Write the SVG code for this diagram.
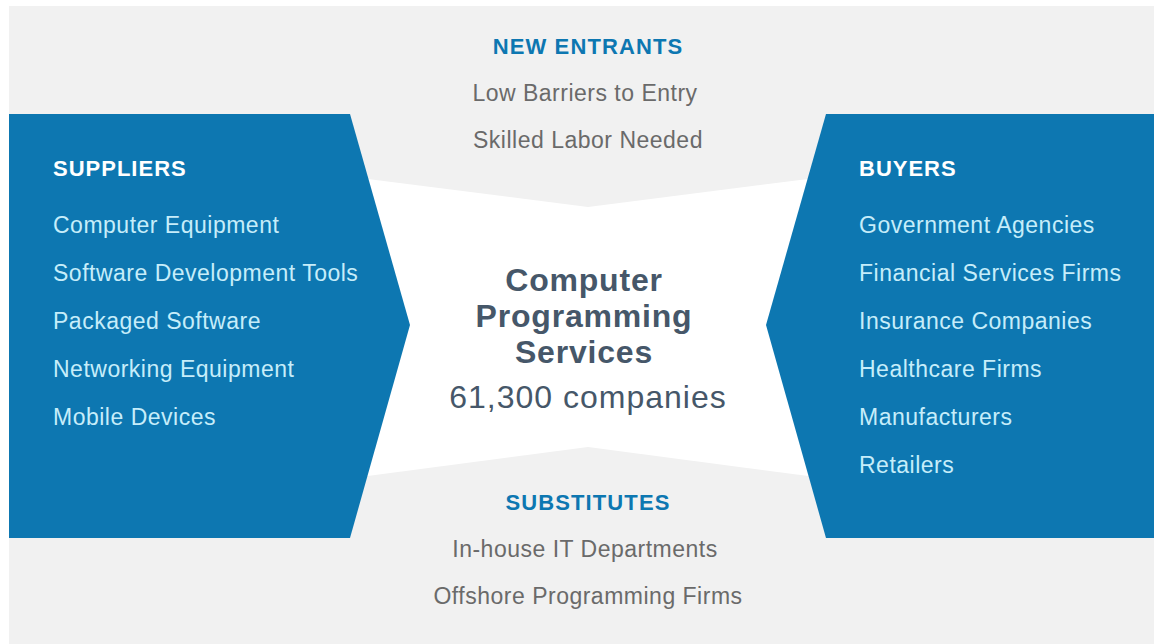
<svg xmlns="http://www.w3.org/2000/svg" width="1154" height="644" viewBox="0 0 1154 644">
  <style>
    text { font-family: "Liberation Sans", Arial, Helvetica, sans-serif; }
    .panel { fill: #0d77b1; }
    .head-w { font-size: 22px; font-weight: bold; fill: #ffffff; letter-spacing: 1px; }
    .item-w { font-size: 23px; fill: #c6edfa; letter-spacing: 0.5px; }
    .head-b { font-size: 22px; font-weight: bold; fill: #0d77b1; text-anchor: middle; letter-spacing: 1.1px; }
    .item-g { font-size: 23px; fill: #6a6a6a; text-anchor: middle; letter-spacing: 0.5px; }
    .core-t { font-size: 32px; font-weight: bold; fill: #465769; text-anchor: middle; letter-spacing: 0.8px; }
    .core-n { font-size: 32px; fill: #465769; text-anchor: middle; letter-spacing: 1px; }
  </style>

  <!-- backdrop -->
  <rect x="0" y="0" width="1154" height="644" fill="#ffffff"/>
  <rect x="9" y="6" width="1145" height="638" fill="#f1f1f1"/>

  <!-- central industry area -->
  <g id="industry">
    <polygon points="360,178 588,207 816,178 816,477 588,447 360,477" fill="#ffffff"/>
    <text class="core-t" x="584" y="291">Computer</text>
    <text class="core-t" x="584" y="327">Programming</text>
    <text class="core-t" x="584" y="363">Services</text>
    <text class="core-n" x="588" y="408">61,300 companies</text>
  </g>

  <!-- suppliers panel -->
  <g id="suppliers">
    <polygon class="panel" points="9,114 350,114 410,325 350,538 9,538"/>
    <text class="head-w" x="53" y="176">SUPPLIERS</text>
    <text class="item-w" x="53" y="233">Computer Equipment</text>
    <text class="item-w" x="53" y="281">Software Development Tools</text>
    <text class="item-w" x="53" y="329">Packaged Software</text>
    <text class="item-w" x="53" y="377">Networking Equipment</text>
    <text class="item-w" x="53" y="425">Mobile Devices</text>
  </g>

  <!-- buyers panel -->
  <g id="buyers">
    <polygon class="panel" points="1154,114 826,114 766,325 826,538 1154,538"/>
    <text class="head-w" x="859" y="176">BUYERS</text>
    <text class="item-w" x="859" y="233">Government Agencies</text>
    <text class="item-w" x="859" y="281">Financial Services Firms</text>
    <text class="item-w" x="859" y="329">Insurance Companies</text>
    <text class="item-w" x="859" y="377">Healthcare Firms</text>
    <text class="item-w" x="859" y="425">Manufacturers</text>
    <text class="item-w" x="859" y="473">Retailers</text>
  </g>

  <!-- new entrants -->
  <g id="new-entrants">
    <text class="head-b" x="588" y="54">NEW ENTRANTS</text>
    <text class="item-g" x="585" y="101">Low Barriers to Entry</text>
    <text class="item-g" x="588" y="148">Skilled Labor Needed</text>
  </g>

  <!-- substitutes -->
  <g id="substitutes">
    <text class="head-b" x="588" y="510">SUBSTITUTES</text>
    <text class="item-g" x="585" y="557">In-house IT Departments</text>
    <text class="item-g" x="588" y="604">Offshore Programming Firms</text>
  </g>

  <g id="connectors"/>
</svg>
